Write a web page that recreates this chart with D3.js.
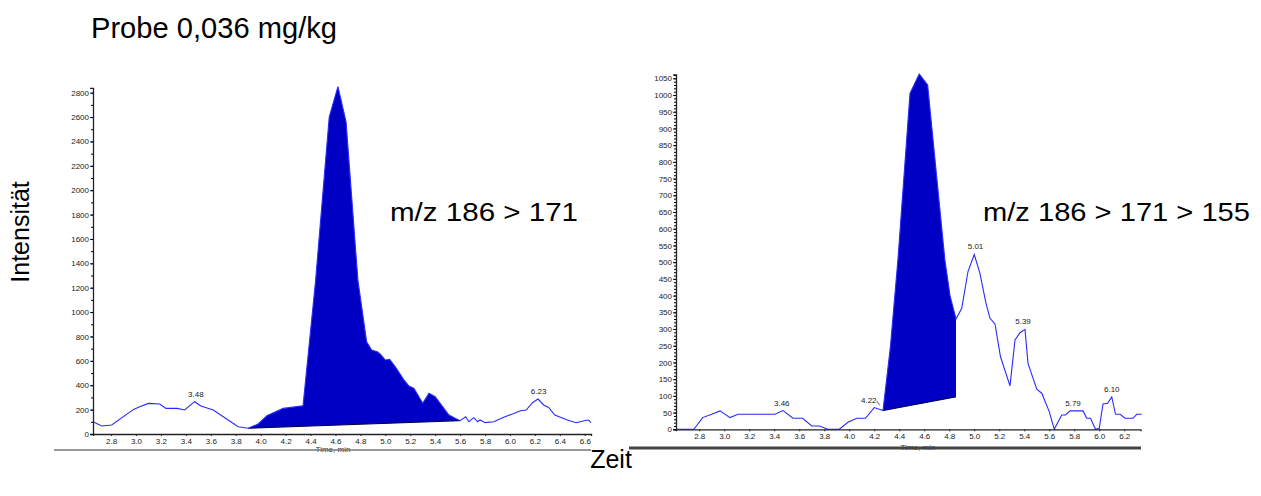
<!DOCTYPE html>
<html>
<head>
<meta charset="utf-8">
<script src="https://cdn.jsdelivr.net/npm/d3@7"></script>
<style>
  body { margin: 0; background: #fff; }
  text { font-family: "Liberation Sans", Arial, sans-serif; }
</style>
</head>
<body>
<script>
// --- data: m/z 186 > 171 (left) ---
var leftTimes = [2.655, 2.725, 2.805, 2.98, 3.03, 3.10, 3.19, 3.24, 3.33, 3.39, 3.47, 3.52, 3.62, 3.70, 3.82, 3.90,
    3.98, 4.05, 4.18, 4.34, 4.44, 4.55, 4.62, 4.685, 4.78, 4.85, 4.89, 4.935, 4.96, 5.00, 5.035, 5.08, 5.15, 5.19,
    5.23, 5.30, 5.35, 5.40, 5.47, 5.51, 5.56, 5.60, 5.645, 5.67, 5.71, 5.74, 5.76, 5.80, 5.87, 5.95, 6.02, 6.085,
    6.13, 6.18, 6.225, 6.27, 6.31, 6.36, 6.43, 6.46, 6.53, 6.595, 6.63, 6.65];
var leftVals = [101, 66, 74, 202, 224, 251, 246, 210, 210, 197, 265, 230, 197, 142, 60, 47,
    82, 150, 210, 232, 1250, 2600, 2850, 2560, 1262, 757, 689, 675, 656, 607, 612, 552, 443, 393,
    374, 252, 334, 306, 210, 156, 129, 109, 142, 101, 134, 101, 115, 93, 101, 137, 164, 191,
    197, 257, 287, 238, 218, 156, 128, 115, 93, 109, 115, 93];
var leftPeakT = [3.48, 6.23];
var leftPeakV = [265, 287];
var leftBaseT = [3.90, 5.60];
var leftBaseV = [47, 109];

// --- data: m/z 186 > 171 > 155 (right) ---
var rightTimes = [2.614, 2.757, 2.827, 2.90, 2.966, 3.046, 3.11, 3.406, 3.47, 3.55, 3.627, 3.70, 3.76, 3.83, 3.92,
    3.99, 4.06, 4.13, 4.20, 4.27, 4.33, 4.39, 4.486, 4.56, 4.627, 4.765, 4.806, 4.854, 4.90, 4.95, 5.00, 5.045,
    5.094, 5.126, 5.166, 5.21, 5.286, 5.326, 5.366, 5.406, 5.43, 5.47, 5.50, 5.54, 5.60, 5.64, 5.70, 5.73,
    5.766, 5.87, 5.90, 5.93, 5.97, 6.00, 6.03, 6.067, 6.10, 6.13, 6.167, 6.206, 6.27, 6.30, 6.34];
var rightVals = [0, 0, 35, 45, 55, 35, 45, 45, 56, 33, 33, 10, 10, 0, 0,
    21, 33, 33, 65, 56, 250, 510, 1005, 1063, 1030, 507, 400, 330, 362, 472, 523, 467,
    377, 332, 315, 217, 130, 267, 289, 299, 197, 153, 120, 108, 53, 0, 43, 43,
    55, 55, 33, 33, 0, 3, 76, 78, 97, 45, 45, 33, 33, 45, 45];
var rightPeakT = [3.46, 4.22, 5.01, 5.39, 5.79, 6.10];
var rightPeakV = [56, 65, 523, 299, 55, 97];
var rightBaseT = [4.27, 4.854];
var rightBaseV = [56, 97];

var leftYTicks = d3.range(0, 2801, 200);
var rightYTicks = d3.range(0, 1051, 50);
var leftXTicks = d3.range(2.8, 6.61, 0.2);
var rightXTicks = d3.range(2.8, 6.41, 0.2);

var svg = d3.select("body").append("svg")
    .attr("width", 1261).attr("height", 496);

var lineBlue = "#2a2aff", fillBlue = "#0000c4", tickGrey = "#222";

function drawPanel(o) {
    var g = svg.append("g");
    if (o.clipRight) {
        svg.append("clipPath").attr("id", o.id + "clip")
            .append("rect").attr("x", 0).attr("y", 0).attr("width", o.clipRight).attr("height", 496);
        g.attr("clip-path", "url(#" + o.id + "clip)");
    }
    var x = d3.scaleLinear().domain(o.xDomain).range(o.xRange);
    var y = d3.scaleLinear().domain(o.yDomain).range(o.yRange);
    var pts = o.times.map(function (t, i) { return {t: t, v: o.vals[i]}; });

    // integrated area between trace and straight baseline
    var b0 = o.baseT[0], b1 = o.baseT[1];
    var basev = function (t) { return o.baseV[0] + (t - b0) / (b1 - b0) * (o.baseV[1] - o.baseV[0]); };
    var inside = pts.filter(function (d) { return d.t >= b0 - 1e-9 && d.t <= b1 + 1e-9; });
    var area = d3.area()
        .x(function (d) { return x(d.t); })
        .y0(function (d) { return y(basev(d.t)); })
        .y1(function (d) { return y(d.v); });
    g.append("path").datum(inside).attr("d", area).attr("fill", fillBlue);
    g.append("line")
        .attr("x1", x(b0)).attr("y1", y(o.baseV[0]))
        .attr("x2", x(b1)).attr("y2", y(o.baseV[1]))
        .attr("stroke", "#000040").attr("stroke-width", 1);

    var line = d3.line().x(function (d) { return x(d.t); }).y(function (d) { return y(d.v); });
    g.append("path").datum(pts).attr("d", line)
        .attr("fill", "none").attr("stroke", lineBlue).attr("stroke-width", 1.1);

    // axes
    var ya = g.append("g").attr("transform", "translate(" + o.xRange[0] + ",0)")
        .call(d3.axisLeft(y).tickValues(o.yTicks).tickSize(3).tickPadding(1).tickFormat(d3.format("d")));
    g.append("g").attr("transform", "translate(" + o.xRange[0] + ",0)")
        .call(d3.axisLeft(y).tickValues(d3.range(0, o.yDomain[1], o.yMinor)).tickSize(2).tickFormat(""))
        .select(".domain").remove();
    var xa = g.append("g").attr("transform", "translate(0," + o.yRange[0] + ")")
        .call(d3.axisBottom(x).tickValues(o.xTicks).tickSize(2).tickPadding(2).tickFormat(d3.format(".1f")));
    [ya, xa].forEach(function (a) {
        a.selectAll("text").attr("font-size", 8).attr("fill", tickGrey)
            .style("font-family", "Liberation Sans, Arial, sans-serif");
        a.selectAll("line").attr("stroke", "#222");
        a.select(".domain").attr("stroke", "#222").attr("stroke-width", 1.3);
    });

    // peak labels
    o.peakT.forEach(function (t, i) {
        var lx = x(t) + (o.leader && o.leader[i] ? -8 : 0);
        g.append("text").attr("x", lx).attr("y", y(o.peakV[i]) - 5)
            .attr("text-anchor", "middle").attr("font-size", 8).attr("fill", tickGrey)
            .text(d3.format(".2f")(t));
        if (o.leader && o.leader[i]) {
            g.append("line").attr("x1", lx + 8).attr("y1", y(o.peakV[i]) - 7)
                .attr("x2", x(t) + 3).attr("y2", y(o.peakV[i]) - 2)
                .attr("stroke", "#333").attr("stroke-width", 0.7);
        }
    });

    g.append("text").attr("x", o.timeX).attr("y", o.timeY)
        .attr("text-anchor", "middle").attr("font-size", 8).attr("fill", "#333").text("Time, min");
    svg.append("line").attr("x1", o.sepX[0]).attr("x2", o.sepX[1])
        .attr("y1", o.sepY).attr("y2", o.sepY)
        .attr("stroke", o.sepColor).attr("stroke-width", o.sepW);

    svg.append("text").attr("x", o.labelX).attr("y", 221)
        .attr("font-size", 26).attr("textLength", o.labelW).attr("lengthAdjust", "spacingAndGlyphs")
        .attr("fill", "#000").text(o.label);
}

drawPanel({
    id: "left", times: leftTimes, vals: leftVals, peakT: leftPeakT, peakV: leftPeakV,
    baseT: leftBaseT, baseV: leftBaseV,
    xDomain: [2.655, 6.65], xRange: [93, 591], yDomain: [0, 2840], yRange: [434, 87.8],
    yTicks: leftYTicks, yMinor: 100, xTicks: leftXTicks,
    timeX: 333, timeY: 452, sepX: [54, 591], sepY: 450, sepColor: "#777", sepW: 1.5,
    label: "m/z 186 > 171", labelX: 390, labelW: 188
});
drawPanel({
    id: "right", times: rightTimes, vals: rightVals, peakT: rightPeakT, peakV: rightPeakV,
    baseT: rightBaseT, baseV: rightBaseV, leader: [false, true, false, false, false, false],
    xDomain: [2.614, 6.33], xRange: [676, 1140.5], yDomain: [0, 1062], yRange: [429.3, 74.3],
    yTicks: rightYTicks, yMinor: 10, xTicks: rightXTicks, clipRight: 1142,
    timeX: 918, timeY: 450, sepX: [629, 1141], sepY: 448, sepColor: "#444", sepW: 3,
    label: "m/z 186 > 171 > 155", labelX: 983, labelW: 267
});

svg.append("text").attr("x", 91).attr("y", 38).attr("font-size", 29)
    .attr("textLength", 246).attr("lengthAdjust", "spacingAndGlyphs").text("Probe 0,036 mg/kg");
svg.append("text").attr("transform", "translate(29,232) rotate(-90)")
    .attr("text-anchor", "middle").attr("font-size", 25).text("Intensität");
svg.append("text").attr("x", 611).attr("y", 468)
    .attr("text-anchor", "middle").attr("font-size", 25).text("Zeit");
</script>
</body>
</html>
